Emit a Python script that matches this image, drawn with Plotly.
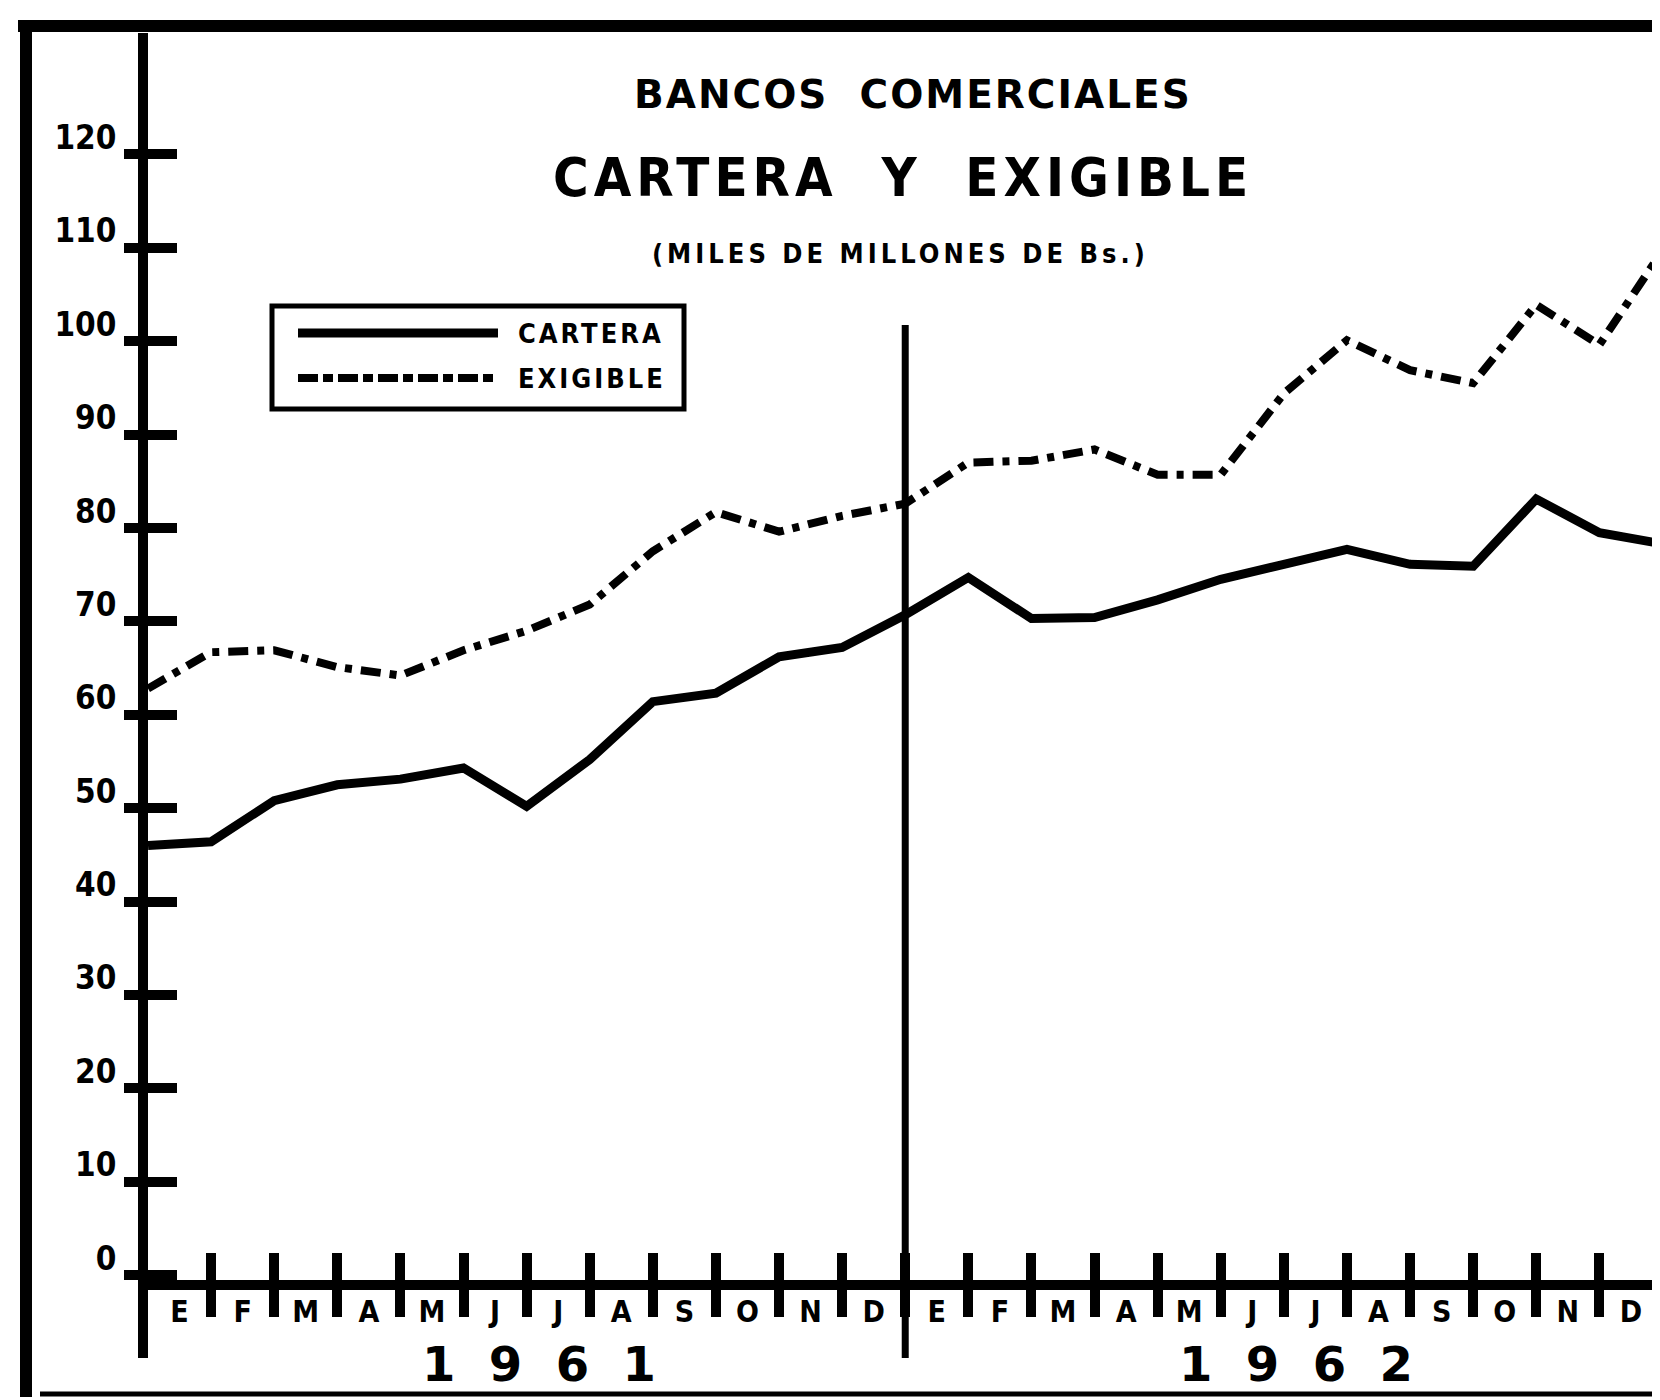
import plotly.graph_objects as go

# ---------------- Data ----------------
# month boundaries counted from the start of January 1961
months = list(range(25))
cartera = [46.0, 46.4, 50.8, 52.5, 53.1, 54.3, 50.2, 55.2, 61.4, 62.3, 66.2, 67.2,
           70.7, 74.7, 70.3, 70.4, 72.3, 74.5, 76.1, 77.7, 76.1, 75.9, 83.1, 79.5, 78.3]
exigible = [62.8, 66.7, 66.9, 65.1, 64.2, 66.9, 69.0, 71.8, 77.5, 81.7, 79.6, 81.3,
            82.6, 87.0, 87.2, 88.4, 85.7, 85.7, 94.4, 100.1, 96.9, 95.5, 103.9, 99.6, 109.7]
month_letters = ["E", "F", "M", "A", "M", "J", "J", "A", "S", "O", "N", "D"] * 2
month_mids = [m + 0.5 for m in range(24)]
month_bounds = list(range(1, 24))
y_ticks = list(range(0, 130, 10))
year_labels = ["1  9  6  1", "1  9  6  2"]
year_pos = [6.2, 18.2]

# ---------------- Geometry (page pixels) ----------------
W, H = 1660, 1400
OFF = 8                      # body margin of the html page
L, R, T, B = 148, 1653, 33, 1280
X_MAX = 23.85
Y_MIN, Y_MAX = -0.53, 133.0

FONT = "DejaVu Sans Condensed, DejaVu Sans, Arial Narrow, sans-serif"
FONT_WIDE = "DejaVu Sans, Arial, sans-serif"


def px(x):
    return (x - L) / (R - L)


def py(y):
    return (B - y) / (B - T)


def xdata(x):
    return x / X_MAX


fig = go.Figure()
fig.add_trace(go.Scatter(
    x=months, y=cartera, mode="lines", name="CARTERA",
    line=dict(color="black", width=9),
))
fig.add_trace(go.Scatter(
    x=months, y=exigible, mode="lines", name="EXIGIBLE",
    line=dict(color="black", width=8, dash="20px,9px,7px,9px"),
))
# carrier for the overlaid label axes
fig.add_trace(go.Scatter(x=[None], y=[None], xaxis="x2", yaxis="y2",
                         showlegend=False, hoverinfo="skip"))

fig.update_layout(
    width=W, height=H,
    margin=dict(l=L - OFF, r=W - R + OFF, t=T - OFF, b=H - B + OFF, pad=0),
    paper_bgcolor="white", plot_bgcolor="white",
    showlegend=False,
    xaxis=dict(
        range=[0, X_MAX], tickvals=month_bounds, ticks="inside", ticklen=27,
        tickwidth=10, tickcolor="black", showticklabels=False,
        showgrid=False, zeroline=False,
        showline=True, linewidth=10, linecolor="black",
    ),
    xaxis2=dict(
        overlaying="x", range=[0, X_MAX], tickvals=month_mids,
        ticktext=month_letters, ticks="",
        minor=dict(tickvals=month_bounds, ticks="outside", ticklen=36,
                   tickwidth=10, tickcolor="black"),
        tickfont=dict(family=FONT, size=30, color="black", weight="bold"),
        showgrid=False, zeroline=False, showline=False,
        ticklabelstandoff=11,
    ),
    yaxis=dict(
        range=[Y_MIN, Y_MAX], tickvals=y_ticks, ticks="inside", ticklen=29,
        tickwidth=10, tickcolor="black", showticklabels=False,
        showgrid=False, zeroline=False,
        showline=True, linewidth=10, linecolor="black",
    ),
    yaxis2=dict(
        overlaying="y", range=[Y_MIN, Y_MAX], tickvals=y_ticks,
        ticks="outside", ticklen=23, tickwidth=10, tickcolor="black",
        tickfont=dict(family=FONT, size=33, color="black", weight="bold"),
        ticklabelshift=-17, ticklabelstandoff=1,
        showgrid=False, zeroline=False, showline=False,
    ),
)

shapes = [
    # outer frame
    dict(type="line", xref="paper", yref="paper", x0=px(18), x1=px(1656),
         y0=py(26), y1=py(26), line=dict(color="black", width=12)),
    dict(type="line", xref="paper", yref="paper", x0=px(26), x1=px(26),
         y0=py(20), y1=py(1397), line=dict(color="black", width=12)),
    dict(type="line", xref="paper", yref="paper", x0=px(1654), x1=px(1654),
         y0=py(20), y1=py(1396), line=dict(color="black", width=4)),
    dict(type="line", xref="paper", yref="paper", x0=px(40), x1=px(1656),
         y0=py(1394), y1=py(1394), line=dict(color="black", width=5)),
    # y axis running below the x axis
    dict(type="line", xref="paper", yref="paper", x0=px(143), x1=px(143),
         y0=py(1272), y1=py(1358), line=dict(color="black", width=10)),
    # year divider
    dict(type="line", xref="x", yref="paper", x0=12, x1=12,
         y0=py(325), y1=py(1358), line=dict(color="black", width=7)),
    # legend box and samples
    dict(type="rect", xref="paper", yref="paper", x0=px(272), x1=px(684),
         y0=py(409), y1=py(306), line=dict(color="black", width=5)),
    dict(type="line", xref="paper", yref="paper", x0=px(298), x1=px(498),
         y0=py(333), y1=py(333), line=dict(color="black", width=9)),
    dict(type="line", xref="paper", yref="paper", x0=px(298), x1=px(498),
         y0=py(378), y1=py(378),
         line=dict(color="black", width=8, dash="20px,5px,10px,5px")),
]

annotations = [
    dict(text="<span style='letter-spacing:2px'><b>BANCOS  COMERCIALES</b></span>",
         x=px(913), y=py(94), font=dict(family=FONT_WIDE, size=39)),
    dict(text="<span style='letter-spacing:5px'><b>CARTERA  Y  EXIGIBLE</b></span>",
         x=px(903), y=py(177), font=dict(family=FONT, size=54)),
    dict(text="<span style='letter-spacing:4px'><b>(MILES DE MILLONES DE Bs.)</b></span>",
         x=px(900), y=py(253), font=dict(family=FONT, size=27)),
    dict(text="<span style='letter-spacing:3px'><b>CARTERA</b></span>",
         x=px(516), y=py(333), xanchor="left", font=dict(family=FONT, size=27)),
    dict(text="<span style='letter-spacing:3px'><b>EXIGIBLE</b></span>",
         x=px(516), y=py(378), xanchor="left", font=dict(family=FONT, size=27)),
]
for label, pos in zip(year_labels, year_pos):
    annotations.append(dict(text="<b>" + label + "</b>", x=xdata(pos), y=py(1364),
                            font=dict(family=FONT_WIDE, size=48)))

for a in annotations:
    a.setdefault("xref", "paper")
    a.setdefault("yref", "paper")
    a.setdefault("xanchor", "center")
    a.setdefault("yanchor", "middle")
    a["showarrow"] = False
    a["font"]["color"] = "black"

fig.update_layout(shapes=shapes, annotations=annotations)

fig.write_html("out.html")
